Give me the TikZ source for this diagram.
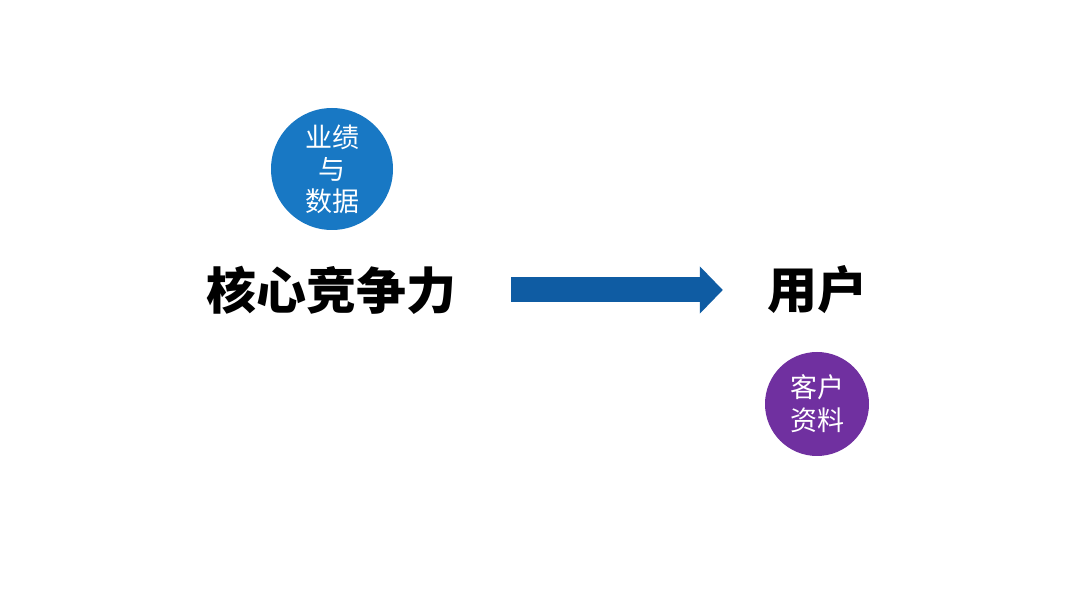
\documentclass[tikz,border=0pt]{standalone}
\usepackage{fontspec}
\usepackage{xcolor}
\newfontfamily\cjk{Noto Sans CJK SC}
\definecolor{ringblue}{HTML}{1878C4}
\definecolor{arrowblue}{HTML}{0F5CA3}
\definecolor{ringpurple}{HTML}{7030A0}
\usetikzlibrary{arrows.meta,positioning}

\begin{document}
\begin{tikzpicture}[x=1pt,y=1pt,font=\cjk]
\useasboundingbox[fill=white] (0,0) rectangle (1080,608);
\node[circle, fill=ringblue, text=white, minimum size=122pt, inner sep=0pt, align=center, font=\cjk\fontsize{27}{32}\selectfont] (perf) at (332,439) {业绩\\与\\数据};
\node[inner sep=0pt, font=\cjk\bfseries\fontsize{50}{50}\selectfont] (core) at (331,318) {核心竞争力};
\node[inner sep=0pt, font=\cjk\bfseries\fontsize{50}{50}\selectfont] (user) at (817,318) {用户};
\node[circle, fill=ringpurple, text=white, minimum size=104pt, inner sep=0pt, align=center, font=\cjk\fontsize{27}{33}\selectfont] (cust) at (817,204) {客户\\资料};
\draw[arrowblue, line width=25pt, shorten <=55pt, shorten >=44pt, -{Triangle[length=23pt,width=46pt]}] (core.east) -- (user.west);
\end{tikzpicture}
\end{document}
